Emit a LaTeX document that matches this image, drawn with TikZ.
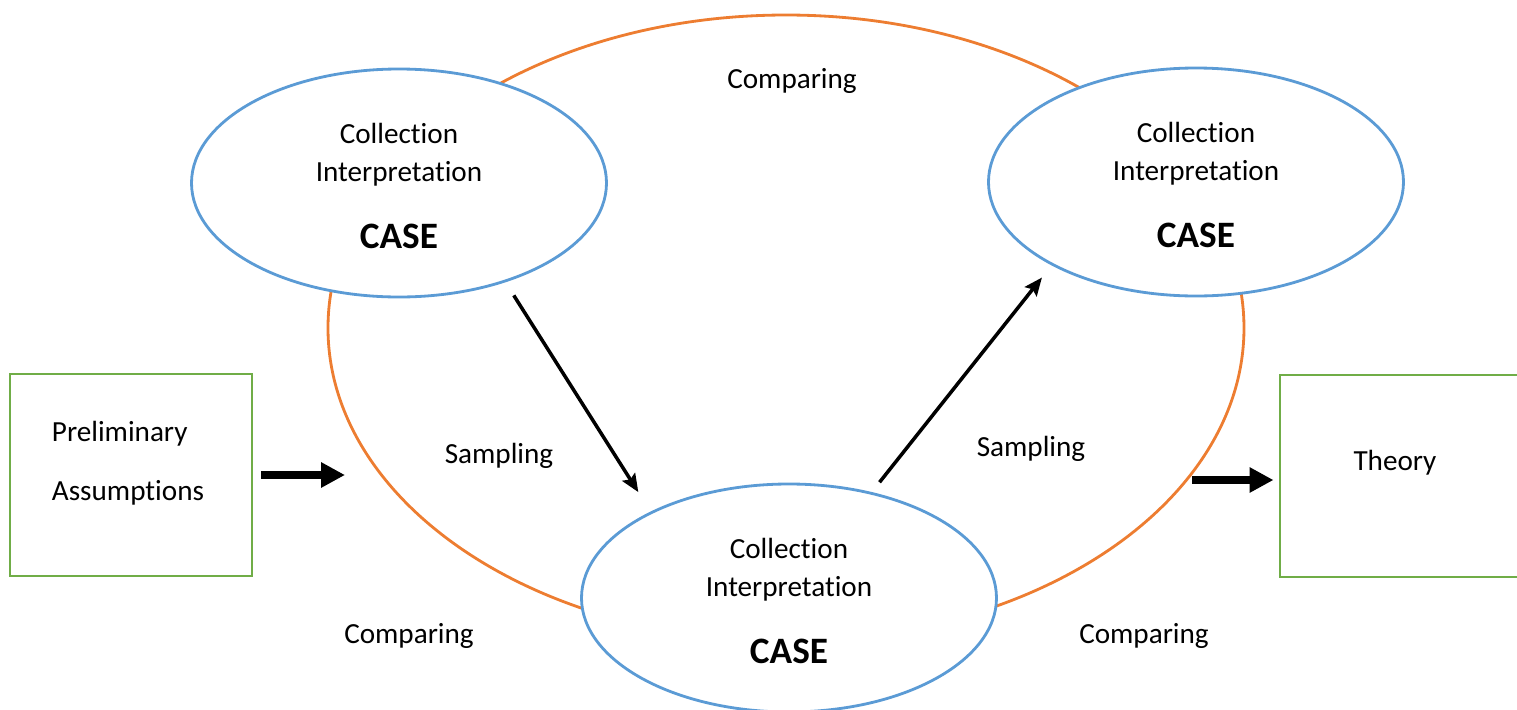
\documentclass[tikz,border=0pt]{standalone}
\usepackage{fontspec}
\setmainfont{Carlito}[Ligatures=NoCommon]
\usepackage{tikz}
\usetikzlibrary{shapes, arrows.meta, positioning}
\definecolor{caseblue}{HTML}{5B9BD5}
\definecolor{looporange}{HTML}{ED7D31}
\definecolor{boxgreen}{HTML}{70AD47}
\newcommand{\casefont}{\fontsize{10.6}{12}\selectfont\bfseries}

\begin{document}
\begin{tikzpicture}[
		every node/.style={font=\fontsize{8.3}{10.8}\selectfont},
		casenode/.style={ellipse, draw=caseblue, line width=0.8pt, fill=white, minimum width=4.15cm, minimum height=2.28cm},
		casetext/.style={align=center, inner sep=0pt},
		sidebox/.style={draw=boxgreen, line width=0.85pt, minimum width=2.42cm, minimum height=2.02cm},
		thinarrow/.style={-{Stealth[length=1.8mm,width=1.5mm,inset=0.3mm]}, line width=1pt},
		thickarrow/.style={-{Triangle[length=2.4mm,width=2.4mm]}, line width=2.2pt}
	]
	\useasboundingbox (0,0) rectangle (15.17,7.09);
	% comparing loop
	\draw[looporange, line width=0.8pt] (7.86,3.81) ellipse [x radius=4.58, y radius=3.13];
	% cases
	\node[casenode] (cl) at (3.99,5.26) {};
	\node[casenode] (cr) at (11.96,5.27) {};
	\node[casenode] (cb) at (7.89,1.11) {};
	\node[casetext] (clt) at ([yshift=-0.03cm]cl) {Collection\\Interpretation\\[8.3pt]{\casefont CASE}};
	\node[casetext] (crt) at ([yshift=-0.03cm]cr) {Collection\\Interpretation\\[8.3pt]{\casefont CASE}};
	\node[casetext] (cbt) at ([yshift=-0.03cm]cb) {Collection\\Interpretation\\[8.3pt]{\casefont CASE}};
	% boxes
	\node[sidebox] (pa) at (1.31,2.34) {};
	\node[align=left] (pat) at ([xshift=-0.03cm,yshift=0.12cm]pa) {Preliminary\\[6pt]Assumptions};
	\node[sidebox, minimum width=2.45cm] (th) at (14.025,2.33) {};
	\node (tht) at (13.95,2.46) {Theory};
	% arrows
	\coordinate (pin) at (3.45,2.34);
	\draw[thickarrow, shorten <=0.08cm] (pa.east) -- (pin);
	\coordinate (tin) at (11.92,2.29);
	\draw[thickarrow, shorten >=0.05cm] (tin) -- (tin -| th.west);
	\draw[thinarrow, shorten <=0.155cm, shorten >=0.23cm] (cl.-43) -- (cb.148);
	\draw[thinarrow, shorten <=0.125cm, shorten >=0.155cm] (cb.52) -- (cr.-150);
	% labels
	\node (cmpt) at (7.92,6.28) {Comparing};
	\node (smpl) at (4.99,2.53) {Sampling};
	\node (smpr) at (10.31,2.60) {Sampling};
	\node (cmpl) at (4.09,0.73) {Comparing};
	\node (cmpr) at (11.44,0.73) {Comparing};
\end{tikzpicture}
\end{document}
